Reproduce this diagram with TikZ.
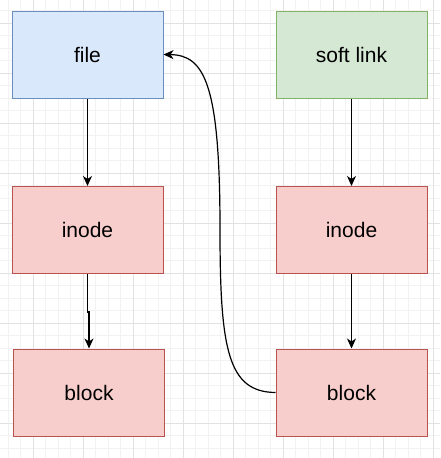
\documentclass[tikz,border=0pt]{standalone}
\usepackage{fontspec}
\setmainfont{Liberation Sans}
\usetikzlibrary{arrows.meta,positioning}

\definecolor{fileblue}{HTML}{DAE8FC}
\definecolor{fileline}{HTML}{6C8EBF}
\definecolor{linkgreen}{HTML}{D5E8D4}
\definecolor{linkline}{HTML}{82B366}
\definecolor{blockred}{HTML}{F8CECC}
\definecolor{blockline}{HTML}{B85450}
\definecolor{gridminor}{HTML}{F2F2F2}
\definecolor{gridmajor}{HTML}{E2E2E2}

\begin{document}
\begin{tikzpicture}[x=1pt,y=-1pt,->,>={Stealth[length=10pt,width=9pt,inset=3pt]},
                    line width=1.2pt,
                    box/.style={draw,-,line width=1pt,minimum width=151pt,
                      minimum height=87pt,inner sep=0pt,
                      font=\fontsize{21}{25}\selectfont},
                    filebox/.style={box,fill=fileblue,draw=fileline},
                    linkbox/.style={box,fill=linkgreen,draw=linkline},
                    redbox/.style={box,fill=blockred,draw=blockline}]

  % background and grid
  \fill[white] (0,0) rectangle (440,458);
  \useasboundingbox (0,0) rectangle (440,458);
  \begin{scope}[-,line width=0.8pt]
    \foreach \gx in {8,20.5,...,440} \draw[gridminor] (\gx,0) -- (\gx,458);
    \foreach \gy in {10.5,23,...,458} \draw[gridminor] (0,\gy) -- (440,\gy);
    \foreach \gx in {33,83,...,440} \draw[gridmajor] (\gx,0) -- (\gx,458);
    \foreach \gy in {23,73,...,458} \draw[gridmajor] (0,\gy) -- (440,\gy);
  \end{scope}

  \node[filebox]  (file)   at (87.5,54.5)                   {file};
  \node[linkbox]  (soft)   at (351.5,54.5)                  {soft link};
  \node[redbox]   (inodeL) at (87.5,230)                    {inode};
  \node[redbox]   (inodeR) at (351.5,230)                   {inode};
  \node[redbox]   (blockL) at (89,392.5)                    {block};
  \node[redbox]   (blockR) at (351.5,392.5)                 {block};

  \draw (file) -- (inodeL);
  \draw (inodeL.south) -- ++(0,38) -| (blockL.north);
  \draw (soft) -- (inodeR);
  \draw (inodeR) -- (blockR);
  \draw (blockR.west) .. controls (228,392) and (220,350) .. (220,230)
                      .. controls (220,85) and (205,55) .. (file.east);
\end{tikzpicture}
\end{document}
